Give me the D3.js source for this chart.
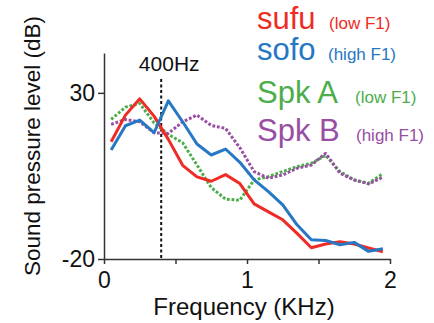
<!DOCTYPE html>
<html>
<head>
<meta charset="utf-8">
<script src="https://cdn.jsdelivr.net/npm/d3@7"></script>
<style>
  body { margin: 0; background: #fff; }
  svg { font-family: "Liberation Sans", Arial, Helvetica, sans-serif; }
</style>
</head>
<body>
<div id="chart"></div>
<script>
// frequency bins (KHz)
var freq = [0.05, 0.15, 0.25, 0.35, 0.45, 0.55, 0.65, 0.75, 0.85, 0.95,
            1.05, 1.15, 1.25, 1.35, 1.45, 1.55, 1.65, 1.75, 1.85, 1.95];

// sound pressure level (dB) per series
var sufu = [15.3, 23.3, 28.2, 23, 16, 8.2, 4.7, 3.4, 5.4, 2.7,
            -3.4, -5.8, -8.2, -12.3, -16.6, -15.5, -14.8, -15.5, -16.7, -17.8];
var sofo = [12.8, 20.1, 21.8, 18, 27.6, 21.3, 14.6, 11.3, 13.1, 9.1,
            3.8, 0.3, -3.7, -9.7, -14.2, -14.4, -15.7, -15, -17.7, -16.9];
var spkA = [22, 25.7, 26.8, 21, 17.5, 15, 8.3, 1.5, -2, -2.3,
            3.8, 4.8, 6.3, 7.8, 8.8, 11.2, 6.3, 3.8, 2.8, 5.7];
var spkB = [20.5, 22, 21.3, 18, 17.8, 21.3, 23.3, 20.2, 19.3, 13.5,
            6.3, 4.3, 5.3, 7.3, 8.3, 11.8, 5.8, 3.8, 2.6, 4.6];

var xTicks = [0, 0.5, 1, 1.5, 2];
var yTicks = [30, -20];
var marker = 0.4; // 400Hz

var series = [
  { name: "Spk A", note: "(low F1)", values: spkA, color: "#4cae4a", dotted: true },
  { name: "Spk B", note: "(high F1)", values: spkB, color: "#984ea3", dotted: true },
  { name: "sufu", note: "(low F1)", values: sufu, color: "#ee2b24", dotted: false },
  { name: "sofo", note: "(high F1)", values: sofo, color: "#2677c4", dotted: false }
];

var width = 434, height = 323;

var svg = d3.select("#chart").append("svg")
    .attr("width", width)
    .attr("height", height);

var x = d3.scaleLinear().domain([0, 2]).range([104, 390]);
var y = d3.scaleLinear().domain([-20, 42]).range([259, 53]);

// axes
var xAxis = svg.append("g")
    .attr("transform", "translate(0," + y(-20) + ")")
    .call(d3.axisBottom(x).tickValues(xTicks).tickSize(5).tickSizeOuter(0).tickPadding(8)
      .tickFormat(function(d) { return d % 1 === 0 ? String(d) : ""; }));

var yAxis = svg.append("g")
    .attr("transform", "translate(" + x(0) + ",0)")
    .call(d3.axisLeft(y).tickValues(yTicks).tickSize(6).tickSizeOuter(0).tickPadding(3)
      .tickFormat(function(d) { return String(d); }));

[xAxis, yAxis].forEach(function(a) {
  a.attr("font-size", 23).attr("font-family", null);
  a.select(".domain").attr("stroke", "#333").attr("stroke-width", 1.5);
  a.selectAll(".tick line").attr("stroke", "#333").attr("stroke-width", 1.5);
  a.selectAll(".tick text").attr("fill", "#111");
});

svg.append("text")
    .attr("x", 244).attr("y", 315)
    .attr("text-anchor", "middle")
    .attr("font-size", 24)
    .attr("fill", "#111")
    .text("Frequency (KHz)");

svg.append("text")
    .attr("transform", "translate(40,146) rotate(-90)")
    .attr("text-anchor", "middle")
    .attr("font-size", 22.5)
    .attr("fill", "#111")
    .text("Sound pressure level (dB)");

// 400Hz marker
svg.append("line")
    .attr("x1", x(marker)).attr("x2", x(marker))
    .attr("y1", 79).attr("y2", y(-20))
    .attr("stroke", "#111")
    .attr("stroke-width", 2)
    .attr("stroke-dasharray", "3,2.5");

svg.append("text")
    .attr("x", x(marker) + 8).attr("y", 71)
    .attr("text-anchor", "middle")
    .attr("font-size", 21)
    .attr("fill", "#111")
    .text("400Hz");

// lines
var line = d3.line()
    .x(function(d, i) { return x(freq[i]); })
    .y(function(d) { return y(d); });

svg.selectAll(".series")
  .data(series)
  .enter().append("path")
  .attr("class", "series")
  .attr("fill", "none")
  .attr("stroke", function(d) { return d.color; })
  .attr("stroke-width", 3)
  .attr("stroke-linejoin", "round")
  .attr("stroke-dasharray", function(d) { return d.dotted ? "2.8,1.8" : null; })
  .attr("d", function(d) { return line(d.values); });

// legend
var legend = [
  { s: series[2], y: 28.5, nx: 329 },
  { s: series[3], y: 60, nx: 328 },
  { s: series[0], y: 103, nx: 355 },
  { s: series[1], y: 141, nx: 356 }
];

var lg = svg.selectAll(".legend")
  .data(legend)
  .enter().append("g")
  .attr("class", "legend");

lg.append("text")
  .attr("x", 257)
  .attr("y", function(d) { return d.y; })
  .attr("font-size", 31)
  .attr("fill", function(d) { return d.s.color; })
  .text(function(d) { return d.s.name; });

lg.append("text")
  .attr("x", function(d) { return d.nx; })
  .attr("y", function(d) { return d.y; })
  .attr("font-size", 17)
  .attr("fill", function(d) { return d.s.color; })
  .text(function(d) { return d.s.note; });
</script>
</body>
</html>
